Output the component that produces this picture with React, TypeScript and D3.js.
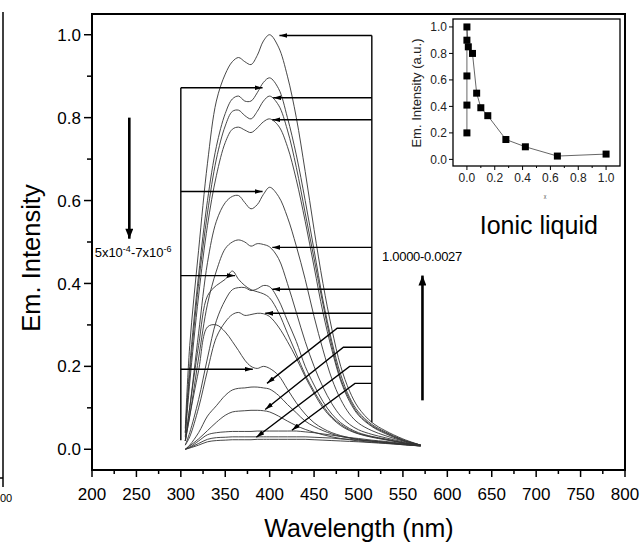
// Emission spectra vs. wavelength, with an inset of intensity vs. mole fraction
import React from 'react'
import * as d3 from 'd3'

// shared wavelength grid (nm)
const wavelengths = [305, 310, 320, 330, 340, 350, 358, 365, 372, 379, 386, 393, 400, 410, 420, 430, 440, 450, 460, 470, 480, 490, 500, 515, 530, 550, 570]

// spectra, top to bottom
const spectra: number[][] = [
  [0.05, 0.25, 0.48, 0.69, 0.84, 0.905, 0.935, 0.945, 0.935, 0.928, 0.95, 0.985, 1.0, 0.97, 0.9, 0.8, 0.67, 0.53, 0.4, 0.29, 0.2, 0.14, 0.1, 0.065, 0.045, 0.025, 0.01],
  [0.04, 0.2, 0.42, 0.6, 0.73, 0.81, 0.845, 0.852, 0.84, 0.84, 0.86, 0.885, 0.896, 0.87, 0.8, 0.71, 0.6, 0.48, 0.36, 0.26, 0.18, 0.125, 0.09, 0.06, 0.042, 0.023, 0.01],
  [0.04, 0.18, 0.4, 0.57, 0.7, 0.78, 0.815, 0.818, 0.805, 0.797, 0.815, 0.84, 0.852, 0.83, 0.77, 0.68, 0.57, 0.46, 0.35, 0.25, 0.17, 0.12, 0.085, 0.057, 0.04, 0.022, 0.01],
  [0.03, 0.16, 0.37, 0.54, 0.66, 0.74, 0.772, 0.777, 0.77, 0.764, 0.775, 0.79, 0.797, 0.78, 0.73, 0.65, 0.55, 0.44, 0.33, 0.24, 0.165, 0.115, 0.082, 0.055, 0.038, 0.021, 0.01],
  [0.02, 0.1, 0.28, 0.45, 0.55, 0.595, 0.61, 0.612, 0.595, 0.58, 0.59, 0.615, 0.632, 0.61, 0.56, 0.49, 0.41, 0.32, 0.24, 0.17, 0.12, 0.085, 0.063, 0.045, 0.033, 0.02, 0.01],
  [0.02, 0.08, 0.22, 0.35, 0.43, 0.484, 0.5, 0.505, 0.5, 0.49, 0.496, 0.494, 0.488, 0.46, 0.4, 0.33, 0.26, 0.2, 0.15, 0.11, 0.08, 0.06, 0.047, 0.036, 0.028, 0.018, 0.01],
  [0.02, 0.1, 0.25, 0.37, 0.395, 0.41, 0.43, 0.41, 0.395, 0.385, 0.38, 0.375, 0.365, 0.33, 0.28, 0.23, 0.18, 0.14, 0.105, 0.078, 0.06, 0.047, 0.038, 0.03, 0.024, 0.016, 0.009],
  [0.01, 0.04, 0.12, 0.22, 0.31, 0.36, 0.385, 0.39, 0.39, 0.383, 0.387, 0.395, 0.392, 0.36, 0.31, 0.26, 0.2, 0.155, 0.115, 0.085, 0.064, 0.05, 0.04, 0.031, 0.025, 0.016, 0.009],
  [0.01, 0.03, 0.1, 0.19, 0.27, 0.307, 0.325, 0.33, 0.323, 0.325, 0.328, 0.327, 0.32, 0.295, 0.26, 0.22, 0.175, 0.135, 0.1, 0.075, 0.057, 0.045, 0.037, 0.029, 0.023, 0.015, 0.009],
  [0.02, 0.08, 0.19, 0.295, 0.3, 0.283, 0.26, 0.238, 0.215, 0.2, 0.195, 0.2, 0.195, 0.178, 0.145, 0.112, 0.085, 0.064, 0.05, 0.04, 0.033, 0.028, 0.024, 0.02, 0.017, 0.012, 0.008],
  [0.0, 0.01, 0.04, 0.08, 0.105, 0.13, 0.143, 0.147, 0.148, 0.15, 0.15, 0.148, 0.145, 0.13, 0.108, 0.088, 0.068, 0.055, 0.045, 0.037, 0.031, 0.027, 0.023, 0.019, 0.016, 0.012, 0.008],
  [0.0, 0.008, 0.025, 0.045, 0.065, 0.082, 0.09, 0.092, 0.093, 0.094, 0.094, 0.093, 0.09, 0.08, 0.068, 0.057, 0.048, 0.041, 0.035, 0.03, 0.026, 0.023, 0.02, 0.017, 0.015, 0.011, 0.008],
  [0.0, 0.005, 0.02, 0.035, 0.04, 0.042, 0.043, 0.043, 0.043, 0.043, 0.044, 0.044, 0.044, 0.044, 0.044, 0.044, 0.042, 0.04, 0.037, 0.034, 0.031, 0.028, 0.026, 0.022, 0.019, 0.014, 0.01],
  [0.0, 0.004, 0.014, 0.024, 0.028, 0.029, 0.03, 0.03, 0.03, 0.03, 0.03, 0.03, 0.03, 0.03, 0.03, 0.03, 0.03, 0.029, 0.028, 0.027, 0.025, 0.024, 0.022, 0.02, 0.017, 0.013, 0.009],
  [0.0, 0.003, 0.01, 0.018, 0.021, 0.022, 0.023, 0.023, 0.023, 0.023, 0.024, 0.024, 0.024, 0.024, 0.024, 0.024, 0.024, 0.023, 0.022, 0.021, 0.02, 0.019, 0.018, 0.016, 0.014, 0.011, 0.008],
]

// arrows from the left bracket (at 300 nm) and from the right bracket (at 515 nm)
const leftArrows: [number, number][][] = [
  [[300, 0.872], [392, 0.872]],
  [[300, 0.622], [392, 0.622]],
  [[300, 0.419], [361, 0.419]],
  [[300, 0.193], [381, 0.193]],
]
const rightArrows: [number, number][][] = [
  [[515, 0.998], [411, 0.998]],
  [[515, 0.848], [404, 0.848]],
  [[515, 0.795], [403, 0.795]],
  [[515, 0.487], [403, 0.487]],
  [[515, 0.386], [403, 0.386]],
  [[515, 0.328], [395, 0.328]],
  [[515, 0.292], [476, 0.292], [397, 0.159]],
  [[515, 0.246], [483, 0.246], [395, 0.096]],
  [[515, 0.2], [490, 0.2], [385, 0.029]],
  [[515, 0.159], [496, 0.159], [425, 0.046]],
]
const leftBracket: [number, number][] = [[300, 0.872], [300, 0.022]]
const rightBracket: [number, number][] = [[515, 0.998], [515, 0.065]]
const downArrow: [number, number][] = [[242, 0.8], [242, 0.508]]
const upArrow: [number, number][] = [[572, 0.118], [572, 0.419]]

const xTicks = [200, 250, 300, 350, 400, 450, 500, 550, 600, 650, 700, 750, 800]
const yTicks = [0.0, 0.2, 0.4, 0.6, 0.8, 1.0]

// inset: intensity vs. mole fraction
const insetX = [0, 0, 0, 0, 0, 0.01, 0.04, 0.07, 0.1, 0.15, 0.28, 0.42, 0.65, 1.0]
const insetY = [0.2, 0.41, 0.63, 0.9, 1.0, 0.85, 0.8, 0.5, 0.39, 0.33, 0.15, 0.095, 0.025, 0.04]
const insetTicks = [0.0, 0.2, 0.4, 0.6, 0.8, 1.0]

const FONT = 'Liberation Sans, Arial, Helvetica, sans-serif'

export default function App() {
  const W = 641, H = 543
  const x = d3.scaleLinear().domain([200, 800]).range([92, 625])
  const y = d3.scaleLinear().domain([-0.05, 1.05]).range([470, 14])

  const ix = d3.scaleLinear().domain([-0.1, 1.1]).range([453, 620])
  const iy = d3.scaleLinear().domain([-0.05, 1.06]).range([166, 19])

  const spectrumLine = d3.line<number>()
    .x((d, i) => x(wavelengths[i]))
    .y(d => y(d))
    .curve(d3.curveCatmullRom.alpha(0.5))

  const path = d3.line<[number, number]>().x(d => x(d[0])).y(d => y(d[1]))

  const insetLine = d3.line<number>()
    .x((d, i) => ix(insetX[i]))
    .y(d => iy(d))

  const xMinor = d3.range(225, 800, 50)
  const yMinor = d3.range(-0.1, 1.05, 0.2).map(v => +v.toFixed(2)).filter(v => v >= -0.05)

  return (
    <svg width={W} height={H} style={{ position: 'absolute', left: 0, top: 0, background: '#fff' }}
      fontFamily={FONT}>
      <defs>
        <marker id="ah" viewBox="0 0 10 6" refX="10" refY="3" markerWidth="8" markerHeight="5"
          markerUnits="userSpaceOnUse" orient="auto">
          <path d="M0,0 L10,3 L0,6 z" fill="#000" />
        </marker>
        <marker id="bigah" viewBox="0 0 10 8" refX="10" refY="4" markerWidth="12" markerHeight="8"
          markerUnits="userSpaceOnUse" orient="auto">
          <path d="M0,0 L10,4 L0,8 z" fill="#000" />
        </marker>
      </defs>

      {/* remnant of the neighbouring panel */}
      <line x1={3} x2={3} y1={12} y2={487} stroke="#000" strokeWidth={1.5} />
      <line x1={0} x2={3} y1={478} y2={478} stroke="#000" strokeWidth={1.5} />
      <text x={0} y={502} fontSize={11} fill="#000">00</text>

      {/* spectra */}
      <g fill="none" stroke="#333" strokeWidth={0.9}>
        {spectra.map((s, i) => <path key={i} d={spectrumLine(s) || ''} />)}
      </g>

      {/* annotation brackets and arrows */}
      <g fill="none" stroke="#000" strokeWidth={1.4}>
        <path d={path(leftBracket) || ''} />
        <path d={path(rightBracket) || ''} />
        {leftArrows.map((a, i) => <path key={'l' + i} d={path(a) || ''} markerEnd="url(#ah)" />)}
        {rightArrows.map((a, i) => <path key={'r' + i} d={path(a) || ''} markerEnd="url(#ah)" />)}
        <path d={path(downArrow) || ''} strokeWidth={2.6} markerEnd="url(#bigah)" />
        <path d={path(upArrow) || ''} strokeWidth={2.6} markerEnd="url(#bigah)" />
      </g>

      <text x={x(203)} y={y(0.463)} fontSize={13} fill="#000">
        5x10<tspan fontSize={9} dy={-5}>-4</tspan><tspan dy={5}>-7x10</tspan><tspan fontSize={9} dy={-5}>-6</tspan>
      </text>
      <text x={x(526.5)} y={y(0.455)} fontSize={13} fill="#000" letterSpacing={-0.3}>1.0000-0.0027</text>
      <text x={x(703)} y={y(0.52)} fontSize={25} fill="#000" textAnchor="middle">Ionic liquid</text>

      {/* main frame */}
      <rect x={92} y={14} width={533} height={456} fill="none" stroke="#000" strokeWidth={2} />

      {/* axis ticks */}
      <g stroke="#000" strokeWidth={1.5}>
        {xTicks.map(t => <line key={t} x1={x(t)} x2={x(t)} y1={470} y2={477} />)}
        {xMinor.map(t => <line key={'m' + t} x1={x(t)} x2={x(t)} y1={470} y2={474} />)}
        {yTicks.map(t => <line key={t} x1={84} x2={92} y1={y(t)} y2={y(t)} />)}
        {yMinor.map(t => <line key={'m' + t} x1={87} x2={92} y1={y(t)} y2={y(t)} />)}
      </g>
      <g fontSize={17} fill="#000">
        {xTicks.map(t => <text key={t} x={x(t)} y={500} textAnchor="middle">{t}</text>)}
        {yTicks.map(t => <text key={t} x={81} y={y(t)} dy="0.36em" textAnchor="end">{t.toFixed(1)}</text>)}
      </g>
      <text x={359} y={537} fontSize={25} textAnchor="middle" fill="#000">Wavelength (nm)</text>
      <text transform="translate(40,258) rotate(-90)" fontSize={25.5} textAnchor="middle" fill="#000">Em. Intensity</text>

      {/* inset */}
      <g>
        <rect x={453} y={19} width={167} height={147} fill="#fff" stroke="#000" strokeWidth={1.3} />
        <path d={insetLine(insetY) || ''} fill="none" stroke="#555" strokeWidth={0.9} />
        {insetY.map((v, i) => (
          <rect key={i} x={ix(insetX[i]) - 3.5} y={iy(v) - 3.5} width={7} height={7} fill="#000" />
        ))}
        <g stroke="#000" strokeWidth={1}>
          {insetTicks.map(t => <line key={'x' + t} x1={ix(t)} x2={ix(t)} y1={166} y2={170} />)}
          {insetTicks.slice(0, 5).map(t => <line key={'xm' + t} x1={ix(t + 0.1)} x2={ix(t + 0.1)} y1={166} y2={168} />)}
          {insetTicks.map(t => <line key={'y' + t} x1={449} x2={453} y1={iy(t)} y2={iy(t)} />)}
        </g>
        <g fontSize={12} fill="#222">
          {insetTicks.map(t => <text key={'x' + t} x={ix(t)} y={182} textAnchor="middle">{t.toFixed(1)}</text>)}
          {insetTicks.map(t => <text key={'y' + t} x={447} y={iy(t)} dy="0.36em" textAnchor="end">{t.toFixed(1)}</text>)}
        </g>
        <text x={545} y={198} fontSize={5} textAnchor="middle" fill="#444">χ</text>
        <text transform="translate(421,93) rotate(-90)" fontSize={13} textAnchor="middle" fill="#222">Em. Intensity (a.u.)</text>
      </g>
    </svg>
  )
}
